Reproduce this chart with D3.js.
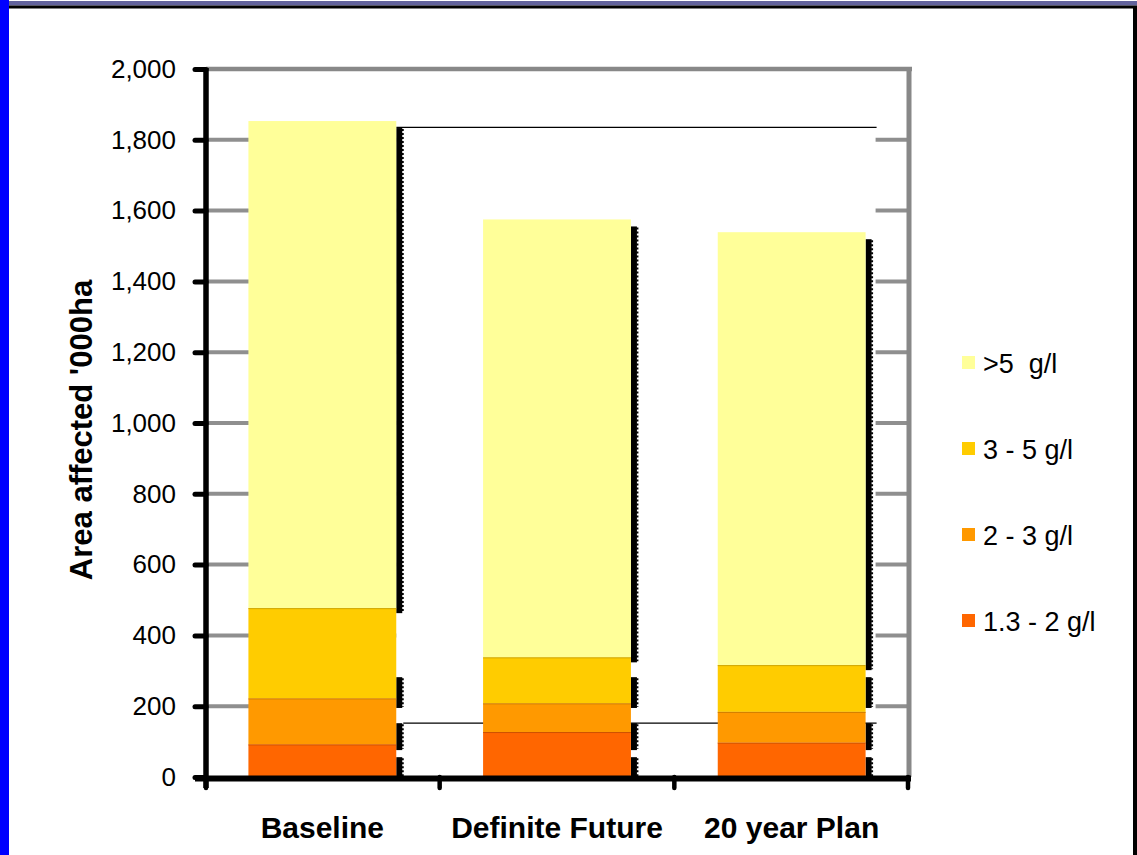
<!DOCTYPE html>
<html>
<head>
<meta charset="utf-8">
<script src="https://cdn.jsdelivr.net/npm/d3@7"></script>
<style>
  html, body { margin: 0; padding: 0; background: #fff; }
  svg { display: block; font-family: "Liberation Sans", Arial, sans-serif; }
</style>
</head>
<body>
<svg id="chart" width="1137" height="855"></svg>
<script>
// Area affected by salinity class ('000 ha)
const categories = ["Baseline", "Definite Future", "20 year Plan"];
const seriesNames = ["1.3 - 2 g/l", "2 - 3 g/l", "3 - 5 g/l", ">5  g/l"];
const low     = [92, 127, 97];      // 1.3 - 2 g/l
const midLow  = [130, 81, 87];      // 2 - 3 g/l
const midHigh = [255, 130, 132];    // 3 - 5 g/l
const high    = [1376, 1237, 1223]; // > 5 g/l
const yTicks = [0, 200, 400, 600, 800, 1000, 1200, 1400, 1600, 1800, 2000];
const guideLines = [1835, 152];
const shadowBands = [[195, 282], [76, 152], [0, 56]];

const colors = ["#FF6600", "#FF9900", "#FFCC00", "#FFFF99"];
const series = [low, midLow, midHigh, high];

const svg = d3.select("#chart");

// page frame
svg.append("rect").attr("x", 8).attr("y", 1).attr("width", 1129).attr("height", 4.5).attr("fill", "#62629c");
svg.append("rect").attr("x", 8).attr("y", 5.5).attr("width", 1129).attr("height", 3).attr("fill", "#000");
svg.append("rect").attr("x", 1133).attr("y", 8).attr("width", 4).attr("height", 847).attr("fill", "#000");
svg.append("rect").attr("x", 0).attr("y", 0).attr("width", 9).attr("height", 855).attr("fill", "#0000ff");

const y = d3.scaleLinear().domain([0, 2000]).range([777, 69]);
const x = d3.scaleBand().domain(categories).range([205, 909]).paddingInner(0.37).paddingOuter(0.185);

const rows = categories.map((c, i) => {
  let acc = 0;
  return series.map((s, k) => {
    const seg = { cat: c, k, y0: acc, y1: acc + s[i] };
    acc += s[i];
    return seg;
  });
});

const plotLeft = 206, plotRight = 909;
const lastBarRight = x(categories[categories.length - 1]) + x.bandwidth();
const firstBarRight = x(categories[0]) + x.bandwidth();
const innerRight = lastBarRight + 10;

// gridlines
svg.append("g").selectAll("line").data(yTicks.filter(t => t > 0 && t < 2000)).join("line")
  .attr("x1", plotLeft).attr("x2", plotRight)
  .attr("y1", d => y(d)).attr("y2", d => y(d))
  .attr("stroke", "#8f8f8f").attr("stroke-width", 4);

// inner backdrop that hides the grid between the bars
svg.append("rect").attr("x", firstBarRight).attr("y", y(2000) + 3)
  .attr("width", innerRight - firstBarRight).attr("height", y(0) - y(2000) - 5)
  .attr("fill", "#fff");

// top and right wall edges
svg.append("line").attr("x1", plotLeft).attr("x2", plotRight + 3)
  .attr("y1", y(2000)).attr("y2", y(2000)).attr("stroke", "#888").attr("stroke-width", 4.5);
svg.append("line").attr("x1", plotRight).attr("x2", plotRight)
  .attr("y1", y(2000) - 2).attr("y2", y(0)).attr("stroke", "#888").attr("stroke-width", 5);

// thin guide lines
svg.append("g").selectAll("line").data(guideLines).join("line")
  .attr("x1", (d, i) => firstBarRight + (i === 0 ? 0 : 7)).attr("x2", innerRight + 1)
  .attr("y1", d => y(d)).attr("y2", d => y(d))
  .attr("stroke", "#000").attr("stroke-width", 1.2);

// bar edge shadows
const shadow = svg.append("g");
categories.forEach((c, i) => {
  const xr = x(c) + x.bandwidth();
  const total = rows[i][3].y1;
  const topBase = rows[i][3].y0;
  const pieces = [[y(total) + 7, y(topBase) + 5]].concat(shadowBands.map(b => [y(b[1]), y(b[0])]));
  pieces.forEach(p => {
    shadow.append("rect").attr("x", xr).attr("y", p[0]).attr("width", 6).attr("height", p[1] - p[0]).attr("fill", "#000");
    shadow.append("line").attr("x1", xr + 6.5).attr("x2", xr + 6.5).attr("y1", p[0] + 1).attr("y2", p[1] - 1)
      .attr("stroke", "#000").attr("stroke-width", 2).attr("stroke-dasharray", "2,2");
  });
});

// stacked bars
const bars = svg.append("g");
rows.forEach(r => {
  bars.selectAll(null).data(r).join("rect")
    .attr("x", d => x(d.cat)).attr("width", x.bandwidth())
    .attr("y", d => y(d.y1)).attr("height", d => y(d.y0) - y(d.y1))
    .attr("fill", d => colors[d.k]);
  bars.selectAll(null).data(r.filter(d => d.k < 3)).join("line")
    .attr("x1", d => x(d.cat)).attr("x2", d => x(d.cat) + x.bandwidth())
    .attr("y1", d => y(d.y1) + 0.5).attr("y2", d => y(d.y1) + 0.5)
    .attr("stroke", d => d3.color(colors[d.k]).darker(0.6)).attr("stroke-width", 1);
});

// y axis
const yAxis = d3.axisLeft(y).tickValues(yTicks).tickFormat(d3.format(",")).tickSize(11).tickPadding(19);
const ya = svg.append("g").attr("transform", `translate(${plotLeft},0)`).call(yAxis);
ya.select(".domain").remove();
ya.selectAll(".tick line").attr("stroke", "#000").attr("stroke-width", 5).attr("stroke-linecap", "round");
ya.selectAll(".tick text").attr("font-size", 26).attr("fill", "#000")
  .attr("font-family", "'Liberation Sans', Arial, sans-serif");
svg.append("line").attr("x1", plotLeft).attr("x2", plotLeft).attr("y1", y(2000) - 1).attr("y2", y(0) + 11)
  .attr("stroke", "#000").attr("stroke-width", 5.5);

// x axis
svg.append("line").attr("x1", 195).attr("x2", plotRight + 2).attr("y1", y(0) + 1.5).attr("y2", y(0) + 1.5)
  .attr("stroke", "#000").attr("stroke-width", 6);
const xEdges = [plotLeft].concat(categories.map(c => x(c) + x.bandwidth() + x.step() * x.paddingInner() / 2));
xEdges[xEdges.length - 1] = plotRight - 1;
svg.append("g").selectAll("line").data(xEdges).join("line")
  .attr("x1", d => d).attr("x2", d => d).attr("y1", y(0)).attr("y2", y(0) + 11)
  .attr("stroke", "#000").attr("stroke-width", 4.5).attr("stroke-linecap", "round");

svg.append("g").selectAll("text").data(categories).join("text")
  .attr("x", d => x(d) + x.bandwidth() / 2).attr("y", 838)
  .attr("text-anchor", "middle").attr("font-size", 30).attr("font-weight", "bold").attr("fill", "#000")
  .text(d => d);

// y axis title
svg.append("text").attr("transform", "translate(92,430) rotate(-90)")
  .attr("text-anchor", "middle").attr("font-size", 31).attr("font-weight", "bold").attr("fill", "#000")
  .text("Area affected '000ha");

// legend
const legendItems = [3, 2, 1, 0];
const lg = svg.append("g").selectAll("g").data(legendItems).join("g")
  .attr("transform", (d, i) => `translate(962,${362.5 + i * 86})`);
lg.append("rect").attr("x", 0).attr("y", -6.5).attr("width", 13).attr("height", 13).attr("fill", d => colors[d]);
lg.append("text").attr("x", 21).attr("y", 10).attr("font-size", 27).attr("fill", "#000")
  .style("white-space", "pre").text(d => seriesNames[d]);
</script>
</body>
</html>
